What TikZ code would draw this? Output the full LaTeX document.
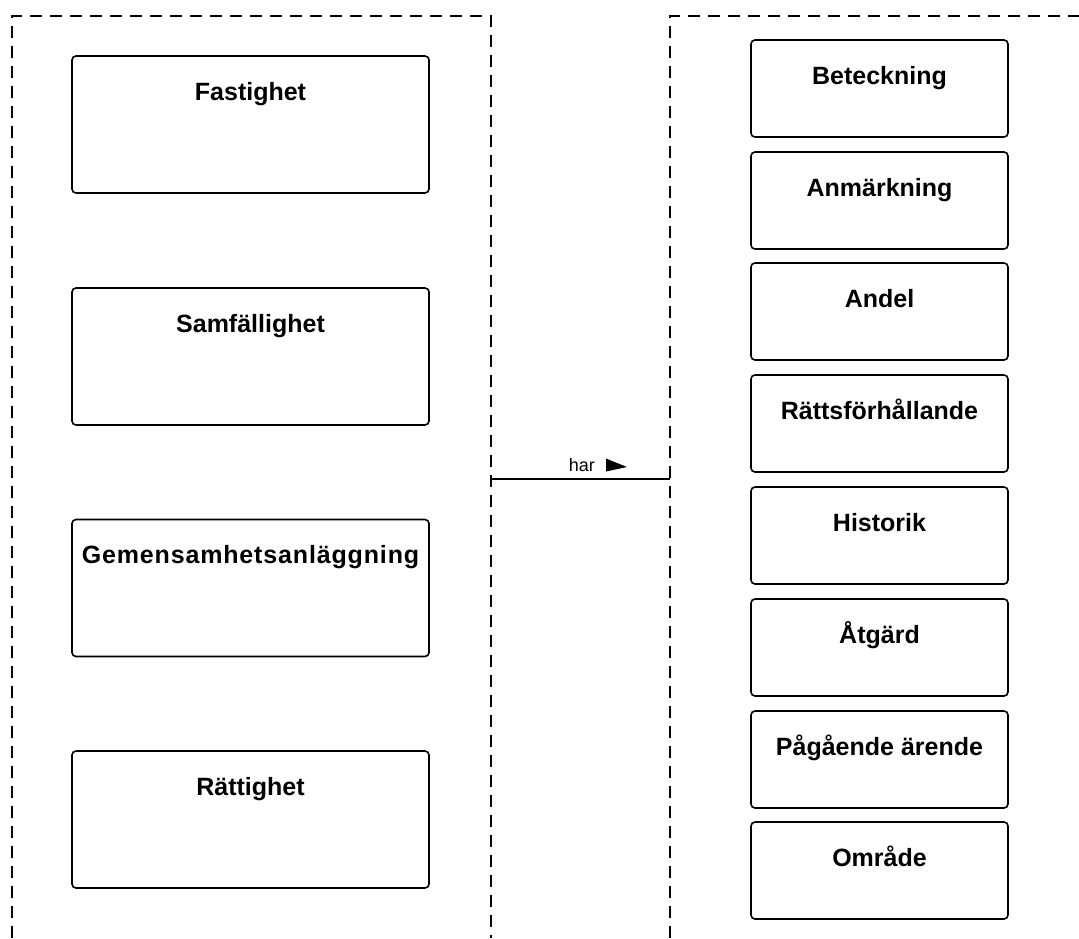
\documentclass[tikz,border=0pt]{standalone}
\usepackage{fontspec}
\setmainfont{Liberation Sans}

\begin{document}
\begin{tikzpicture}[x=1pt,y=-1pt,
			ram/.style={line width=1.2pt,dash pattern=on 12pt off 8pt},
			stor/.style={draw,line width=1.6pt,rounded corners=4pt,inner sep=0pt,
				minimum width=357pt,text height=44pt,text depth=93pt,
				font=\fontsize{25}{30}\selectfont\bfseries},
			liten/.style={stor,minimum width=257pt,text depth=53pt}]
			\useasboundingbox (0,0) rectangle (1079,938);
			% ramar
			\draw[ram] (12,938) -- (12,16) -- (491,16) -- (491,938);
			\draw[ram] (670,938) -- (670,16) -- (1079,16);
			\coordinate (vanster) at (491,479);
			\coordinate (hoger) at (670,479);

			\node[stor] (fastighet) at (250.5,124.5) {Fastighet};
			\node[stor] (samfallighet) at (250.5,356.5) {Samfällighet};
			\node[stor] (gemensamhet) at (250.5,588) {\addfontfeature{LetterSpace=3.4}Gemensamhetsanläggning};
			\node[stor] (rattighet) at (250.5,819.5) {Rättighet};

			\node[liten] (beteckning) at (879.5,88.5) {Beteckning};
			\node[liten] (anmarkning) at (879.5,200.5) {Anmärkning};
			\node[liten] (andel) at (879.5,311.5) {Andel};
			\node[liten] (rattsforhallande) at (879.5,423.5) {Rättsförhållande};
			\node[liten] (historik) at (879.5,535.5) {Historik};
			\node[liten] (atgard) at (879.5,647.5) {Åtgärd};
			\node[liten] (pagaende) at (879.5,759.5) {Pågående ärende};
			\node[liten] (omrade) at (879.5,870.5) {Område};

			% relation
			\draw[line width=1.2pt] (vanster) -- (hoger);
			\node[inner sep=0pt,anchor=base east,font=\fontsize{18}{20}\selectfont] (har) at (595,471.5) {har};
			\fill ([xshift=11pt]har.base east) -- ++(21,-4.5) -- ++(-21,-8.5) -- cycle;
\end{tikzpicture}
\end{document}
